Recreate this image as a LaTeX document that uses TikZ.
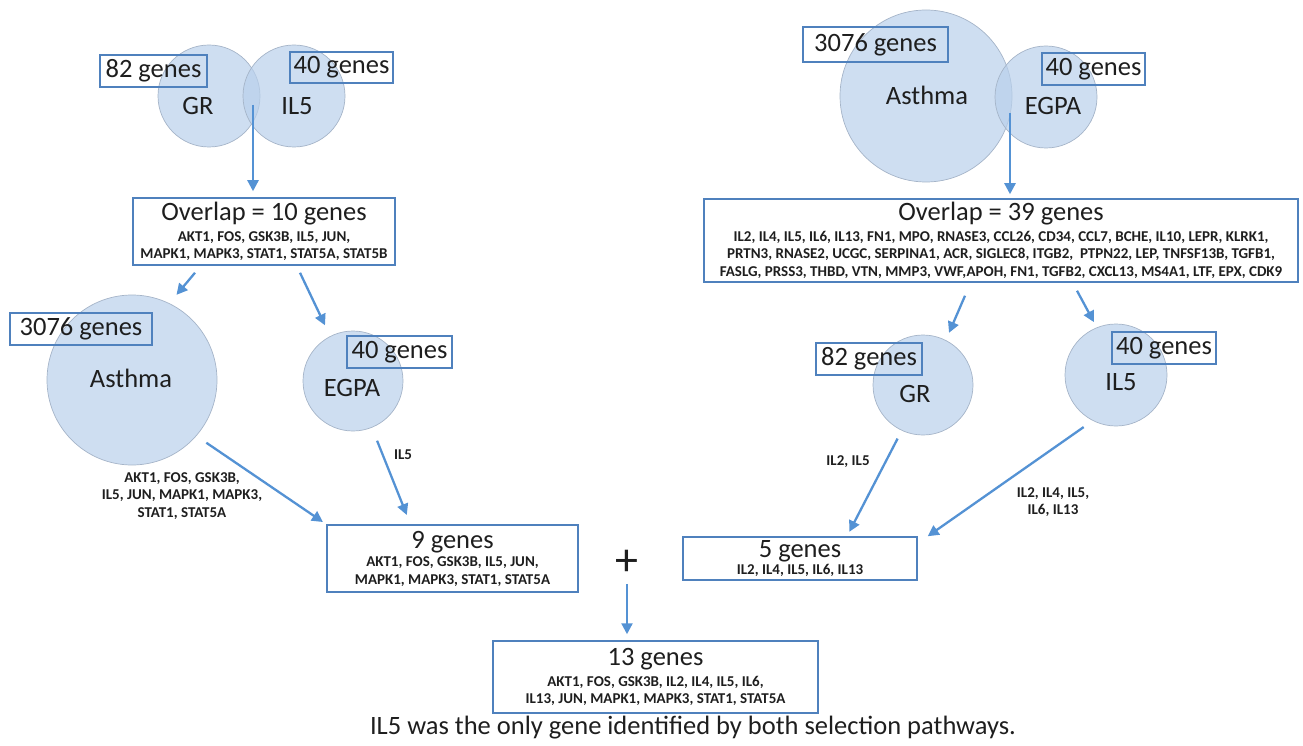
\documentclass[tikz,border=0pt]{standalone}
\usepackage{fontspec}
\setmainfont{Carlito}
\usepackage{tikz}
\usetikzlibrary{arrows.meta}

\definecolor{circfill}{RGB}{185,208,235}
\definecolor{circline}{RGB}{165,180,200}
\definecolor{boxline}{RGB}{79,129,189}
\definecolor{arrowblue}{RGB}{84,146,212}
\definecolor{textdark}{RGB}{30,30,30}

\newcommand{\bigfont}{\fontsize{26.5}{28}\selectfont}
\newcommand{\genefont}{\fontsize{15}{17.5}\bfseries\selectfont}

\tikzset{
  setcirc/.style={circle, draw=circline, fill=circfill, fill opacity=0.7, line width=0.7pt, inner sep=0pt},
  countbox/.style={draw=boxline, line width=1.5pt, inner sep=0pt, font=\bigfont, text=textdark},
  genebox/.style={draw=boxline, line width=1.5pt, inner sep=0pt, align=center, font=\genefont, text=textdark},
  setname/.style={font=\bigfont, text=textdark, inner sep=0pt},
  tag/.style={font=\genefont, align=center, text=textdark, inner sep=0pt},
  flow/.style={draw=arrowblue, line width=2.3pt, -{Triangle[length=11pt,width=11pt]}},
}

\begin{document}
\begin{tikzpicture}[x=1pt, y=-1pt]
  \useasboundingbox (0,0) rectangle (1303,746);

  % GR / IL5 venn (left)
  \node[setcirc, minimum size=102pt] (grA) at (209,96) {};
  \node[setcirc, minimum size=102pt] (ilA) at (294,96) {};
  \node[setname] (grAname) at (198,106) {GR};
  \node[setname] (ilAname) at (297,106) {IL5};
  \node[countbox, minimum width=107pt, minimum height=32pt] (grAcount) at (153.5,71) {82 genes};
  \node[countbox, minimum width=103pt, minimum height=31pt] (ilAcount) at (341.5,67.5) {40 genes};
  \coordinate (lensA) at (253,105);

  % Asthma / EGPA venn (right)
  \node[setcirc, minimum size=172pt] (asB) at (926,96) {};
  \node[setcirc, minimum size=102pt] (egB) at (1046,97) {};
  \node[setname] (asBname) at (927,95) {Asthma};
  \node[setname] (egBname) at (1053,106) {EGPA};
  \node[countbox, minimum width=145pt, minimum height=35pt] (asBcount) at (875.5,44.5) {3076 genes};
  \node[countbox, minimum width=103pt, minimum height=32pt] (egBcount) at (1093.5,69) {40 genes};
  \coordinate (lensB) at (1010,113);

  % overlap boxes
  \node[genebox, minimum width=262pt, minimum height=67pt] (ovA) at (264,231.5)
    {{\bigfont\mdseries Overlap = 10 genes}\\[3pt]
     AKT1, FOS, GSK3B, IL5, JUN,\\
     MAPK1, MAPK3, STAT1, STAT5A, STAT5B};
  \node[genebox, minimum width=594pt, minimum height=83pt] (ovB) at (1001,240.5)
    {{\bigfont\mdseries Overlap = 39 genes}\\[3pt]
     IL2, IL4, IL5, IL6, IL13, FN1, MPO, RNASE3, CCL26, CD34, CCL7, BCHE, IL10, LEPR, KLRK1,\\
     PRTN3, RNASE2, UCGC, SERPINA1, ACR, SIGLEC8, ITGB2, \ PTPN22, LEP, TNFSF13B, TGFB1,\\
     FASLG, PRSS3, THBD, VTN, MMP3, VWF,APOH, FN1, TGFB2, CXCL13, MS4A1, LTF, EPX, CDK9};

  % second step, left
  \node[setcirc, minimum size=170pt] (asA) at (132,380) {};
  \node[setcirc, minimum size=100pt] (egA) at (353,381) {};
  \node[setname] (asAname) at (131,378) {Asthma};
  \node[setname] (egAname) at (352,388) {EGPA};
  \node[countbox, minimum width=142pt, minimum height=32pt] (asAcount) at (81,329) {3076 genes};
  \node[countbox, minimum width=105pt, minimum height=32pt] (egAcount) at (399.5,352) {40 genes};

  % second step, right
  \node[setcirc, minimum size=100pt] (grB) at (923,385) {};
  \node[setcirc, minimum size=102pt] (ilB) at (1116,375) {};
  \node[setname] (grBname) at (915,394) {GR};
  \node[setname] (ilBname) at (1121,382) {IL5};
  \node[countbox, minimum width=106pt, minimum height=32pt] (grBcount) at (869,359) {82 genes};
  \node[countbox, minimum width=104pt, minimum height=32pt] (ilBcount) at (1164,348) {40 genes};

  % results
  \node[genebox, minimum width=251pt, minimum height=67pt] (nine) at (452.5,558.5)
    {{\bigfont\mdseries 9 genes}\\[1pt]
     AKT1, FOS, GSK3B, IL5, JUN,\\
     MAPK1, MAPK3, STAT1, STAT5A};
  \node[genebox, minimum width=234pt, minimum height=43pt] (five) at (800,558.5)
    {{\bigfont\mdseries 5 genes}\\[-1pt]
     IL2, IL4, IL5, IL6, IL13};
  \node[font=\fontsize{46}{46}\selectfont, text=textdark, inner sep=0pt] (plus) at (627,563) {+};
  \node[genebox, minimum width=325pt, minimum height=72pt] (thirteen) at (655.5,677)
    {{\bigfont\mdseries 13 genes}\\[3pt]
     AKT1, FOS, GSK3B, IL2, IL4, IL5, IL6,\\
     IL13, JUN, MAPK1, MAPK3, STAT1, STAT5A};

  % arrow labels
  \node[tag] (asAtag) at (182,496) {AKT1, FOS, GSK3B,\\IL5, JUN, MAPK1, MAPK3,\\STAT1, STAT5A};
  \node[tag] (egAtag) at (403,455) {IL5};
  \node[tag] (grBtag) at (848,462) {IL2, IL5};
  \node[tag] (ilBtag) at (1053,502) {IL2, IL4, IL5,\\IL6, IL13};

  % arrows
  \draw[flow, shorten >=6pt] (lensA) -- (lensA |- ovA.north);
  \draw[flow, shorten >=4pt] (lensB) -- (lensB |- ovB.north);
  \draw[flow, shorten >=11pt] ([xshift=-69pt,yshift=-7pt]ovA.south) -- (asA.64);
  \draw[flow, shorten >=12pt] ([xshift=36pt,yshift=-7pt]ovA.south) -- (egA.117);
  \draw[flow, shorten <=12pt, shorten >=4pt] (asA.-41) -- (nine.north west);
  \draw[flow, shorten <=14pt, shorten >=10pt] (egA.-68) -- ([xshift=-42pt]nine.north);
  \draw[flow, shorten >=8pt] ([xshift=-36pt,yshift=-13pt]ovB.south) -- (grB.63);
  \draw[flow, shorten >=6pt] ([xshift=76pt,yshift=-8pt]ovB.south) -- (ilB.112);
  \draw[flow, shorten <=9pt, shorten >=5pt] (grB.-115) -- ([xshift=47pt]five.north);
  \draw[flow, shorten <=11pt] (ilB.-117) -- ([xshift=10pt]five.north east);
  \draw[flow, shorten <=8pt, shorten >=6pt] (plus.south) -- (plus |- thirteen.north);

  % caption
  \node[font=\bigfont, text=textdark, inner sep=0pt] (caption) at (693,728)
    {IL5 was the only gene identified by both selection pathways.};
\end{tikzpicture}
\end{document}
